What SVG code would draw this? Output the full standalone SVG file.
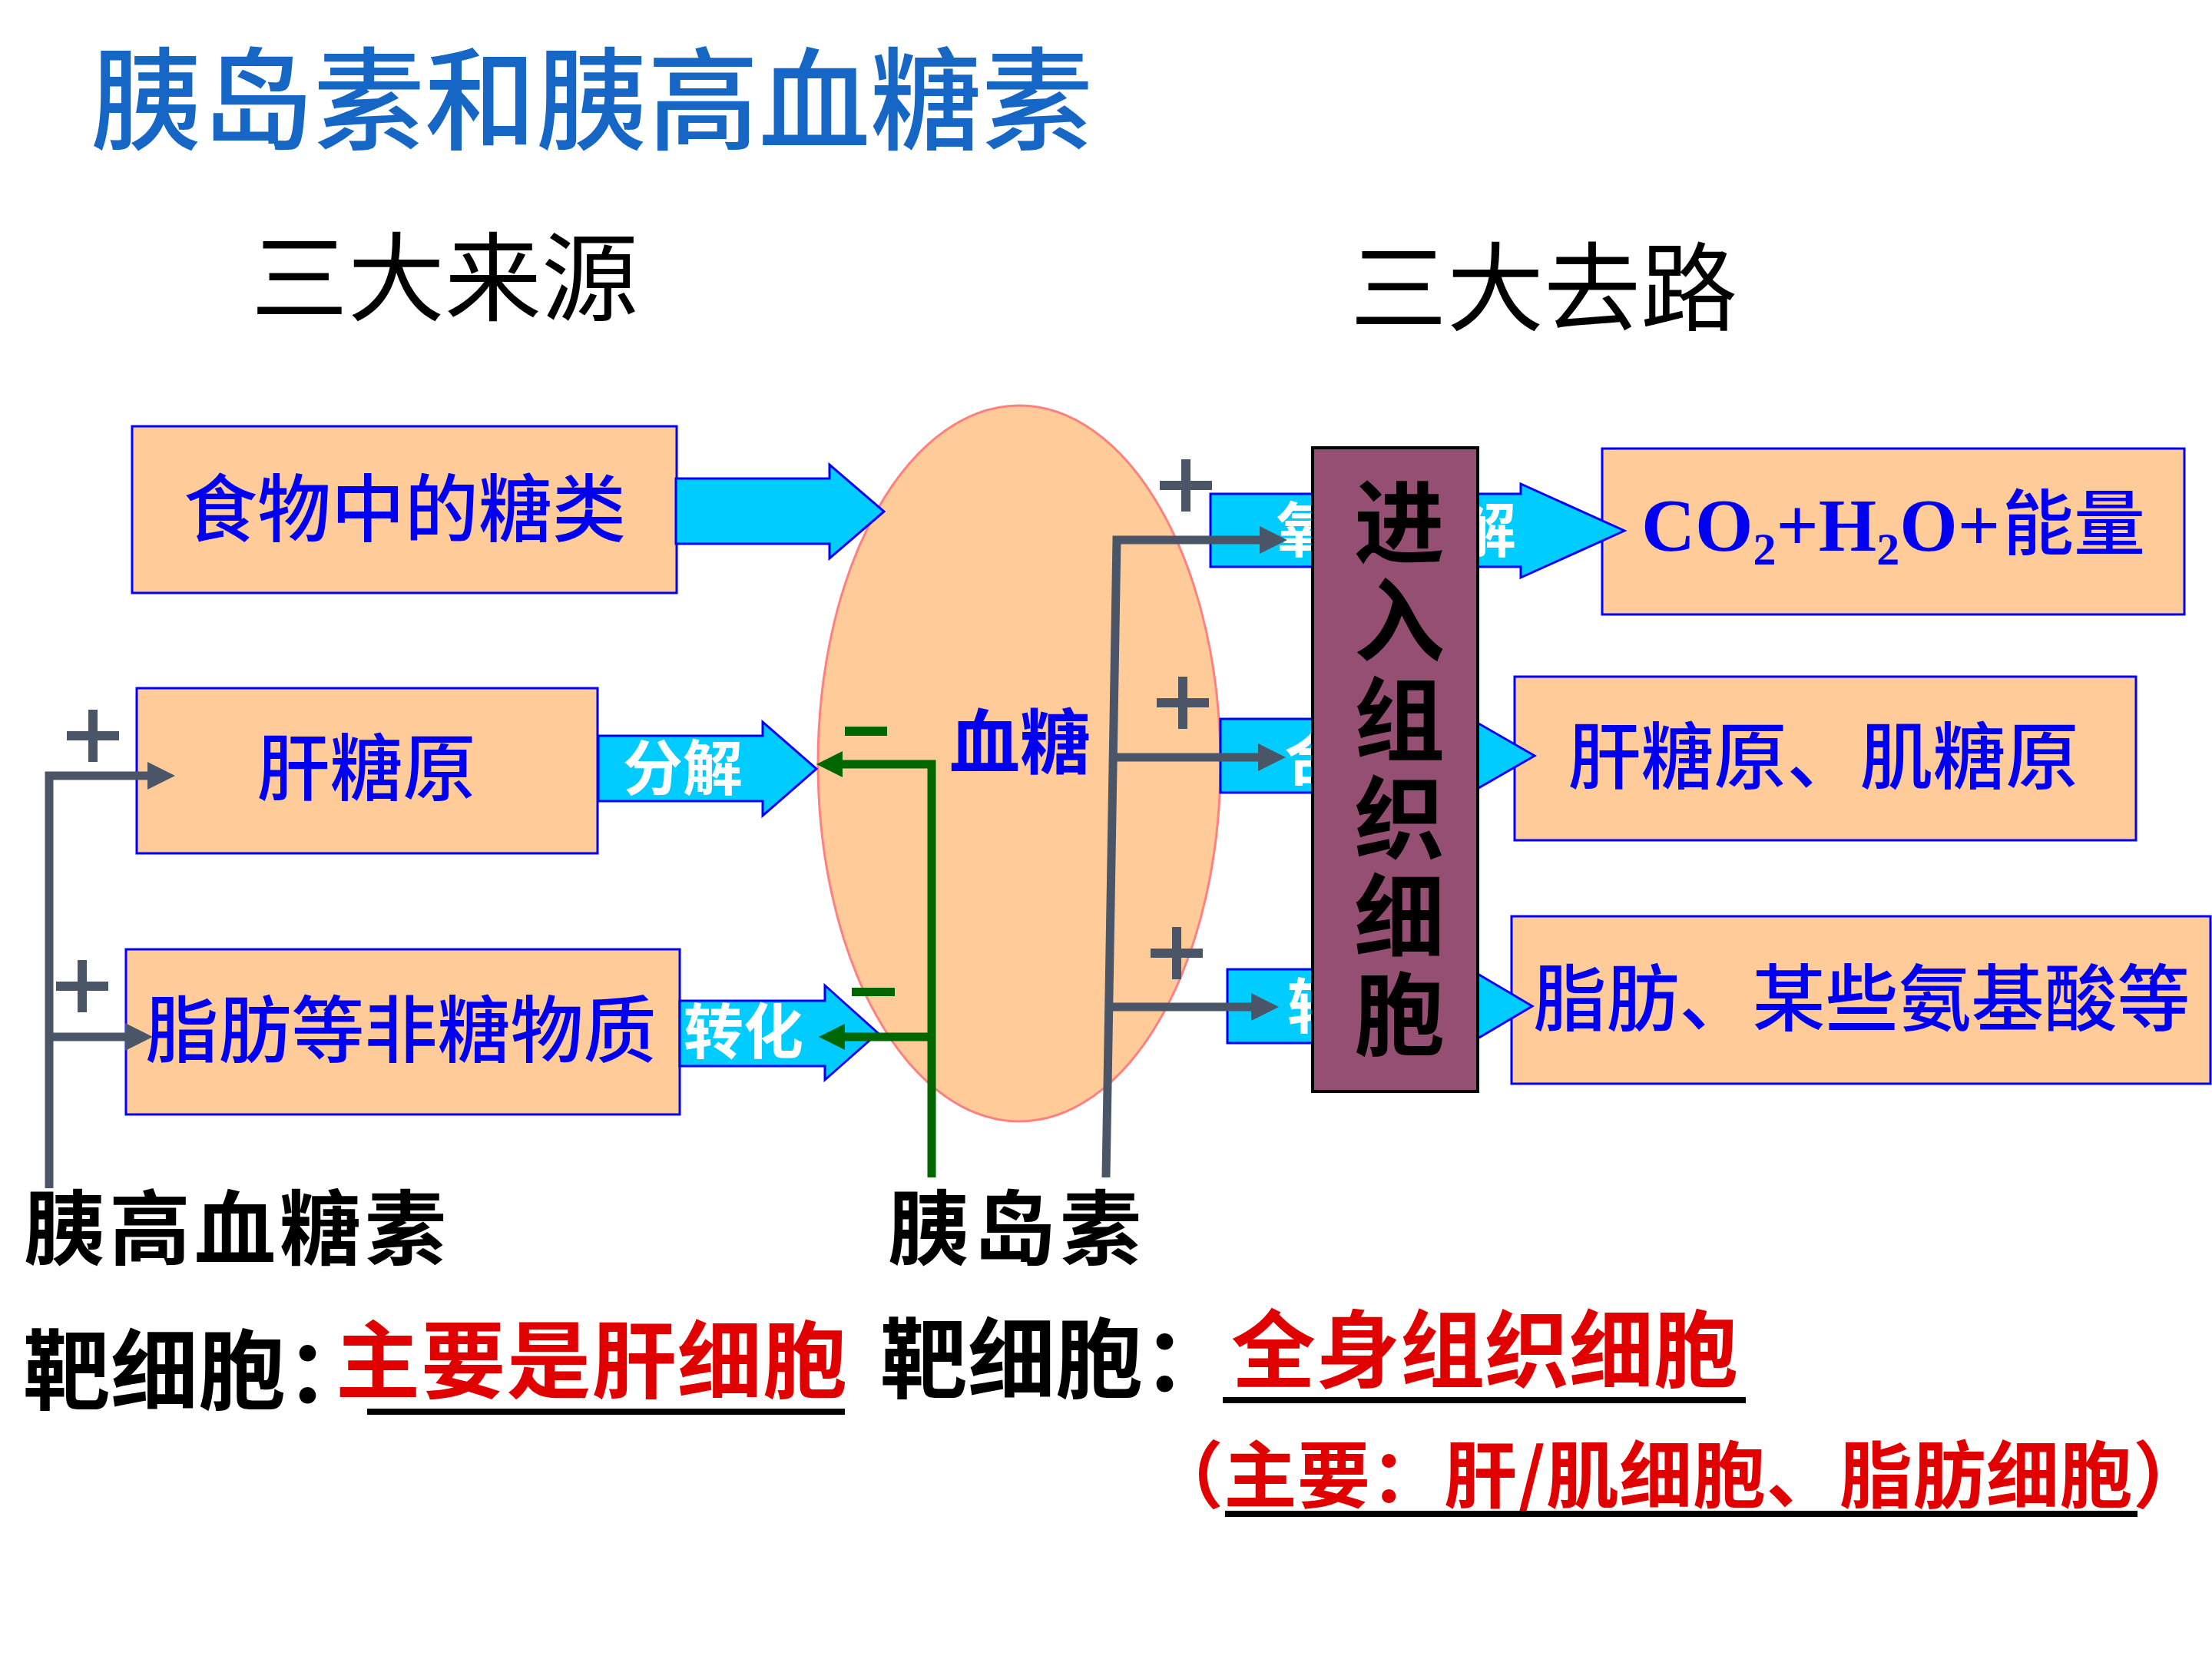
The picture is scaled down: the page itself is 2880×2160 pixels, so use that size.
<svg xmlns="http://www.w3.org/2000/svg" width="2880" height="2160" viewBox="0 0 2880 2160">
<defs>
<style>
.box{fill:#FFCC99;stroke:#0000FF;stroke-width:3}
.arr{fill:#00CCFF;stroke:#0000FF;stroke-width:3;stroke-linejoin:miter}
.bt{font-family:"Noto Sans CJK SC",sans-serif;fill:#0000F0;font-weight:500;text-anchor:middle}
.wt{font-family:"Noto Sans CJK SC",sans-serif;fill:#FFFFFF;font-weight:700}
.kai{font-family:"Noto Sans CJK SC",sans-serif;font-weight:700;fill:#000000}
.red{fill:#E00000}
.hd{font-family:"Noto Sans CJK SC",sans-serif;font-weight:400;fill:#000000;text-anchor:middle}
.gray{stroke:#4A5567;stroke-width:11;fill:none;stroke-linejoin:miter}
.green{stroke:#006600;stroke-width:11;fill:none;stroke-linejoin:miter}
.ul{stroke:#000000;stroke-width:8}
</style>
<marker id="ag" markerUnits="userSpaceOnUse" markerWidth="36" markerHeight="36" viewBox="0 0 36 36" refX="0" refY="18" orient="auto"><path d="M0,0 L36,18 L0,36 Z" fill="#4A5567"/></marker>
<marker id="agr" markerUnits="userSpaceOnUse" markerWidth="34" markerHeight="34" viewBox="0 0 34 34" refX="0" refY="17" orient="auto"><path d="M0,0 L34,17 L0,34 Z" fill="#006600"/></marker>
<path id="plus" d="M-34,-6H34V6H-34Z M-6,-34H6V34H-6Z"/>
</defs>
<rect width="2880" height="2160" fill="#FFFFFF"/>

<g id="title">
<text x="118" y="184" font-family="Noto Sans CJK SC, sans-serif" font-size="145" font-weight="500" fill="#1666C5">胰岛素和胰高血糖素</text>
<text class="hd" x="579" y="408" font-size="126">三大来源</text>
<text class="hd" x="2010" y="421" font-size="126">三大去路</text>
</g>

<g id="blood-sugar">
<ellipse cx="1327" cy="994" rx="262" ry="466" fill="#FFCC99" stroke="#FF8080" stroke-width="3"/>
<text x="1328" y="1000" font-family="Noto Sans CJK SC, sans-serif" font-size="92" font-weight="700" fill="#0000F0" text-anchor="middle">血糖</text>
</g>

<g id="food">
<rect class="box" x="172" y="555" width="709" height="217"/>
<text class="bt" x="527" y="697" font-size="96">食物中的糖类</text>
</g>
<g id="liver-glycogen">
<rect class="box" x="178" y="896" width="600" height="215"/>
<text class="bt" x="477" y="1035" font-size="95">肝糖原</text>
</g>
<g id="non-sugar">
<rect class="box" x="164" y="1236" width="721" height="215"/>
<text class="bt" x="522" y="1376" font-size="95">脂肪等非糖物质</text>
</g>

<g id="co2">
<rect class="box" x="2086" y="584" width="758" height="216"/>
<text x="2137" y="717" font-family="Liberation Serif, serif" font-size="97" font-weight="700" fill="#0000F0">CO<tspan dy="18" font-size="60">2</tspan><tspan dy="-18">+H</tspan><tspan dy="18" font-size="60">2</tspan><tspan dy="-18">O+</tspan></text>
<text x="2607" y="715" font-family="Noto Sans CJK SC, sans-serif" font-size="93" font-weight="500" fill="#0000F0">能量</text>
</g>
<g id="glycogen-out">
<rect class="box" x="1972" y="881" width="809" height="213"/>
<text class="bt" x="2374" y="1020" font-size="95">肝糖原、肌糖原</text>
</g>
<g id="fat-out">
<rect class="box" x="1968" y="1193" width="910" height="218"/>
<text class="bt" x="2424" y="1335" font-size="95">脂肪、某些氨基酸等</text>
</g>

<g id="flow-arrows">
<path class="arr" d="M880,623 H1080 V605 L1151,666 L1080,727 V708 H880 Z"/>
<path class="arr" d="M779,958 H993 V940 L1063,1001 L993,1062 V1043 H779 Z"/>
<text class="wt" x="889" y="1029" font-size="78" text-anchor="middle">分解</text>
<path class="arr" d="M885,1303 H1074 V1283 L1143,1345 L1074,1406 V1388 H885 Z"/>
<text class="wt" x="968" y="1372" font-size="78" text-anchor="middle">转化</text>
<path class="arr" d="M1576,643 H1980 V630 L2115,691 L1980,752 V738 H1576 Z"/>
<text class="wt" x="1662" y="719" font-size="78">氧化分解</text>
<path class="arr" d="M1589,936 H1880 V916 L1998,984 L1880,1052 V1032 H1589 Z"/>
<text class="wt" x="1672" y="1016" font-size="78">合成</text>
<path class="arr" d="M1598,1262 H1880 V1242 L1995,1310 L1880,1378 V1358 H1598 Z"/>
<text class="wt" x="1676" y="1339" font-size="78">转化</text>
</g>

<g id="tissue-cells">
<rect x="1709" y="583" width="215" height="838" fill="#944F73" stroke="#000000" stroke-width="4"/>
<g class="kai" font-size="118" text-anchor="middle">
<text x="1822" y="724">进</text>
<text x="1822" y="852">入</text>
<text x="1822" y="981">组</text>
<text x="1822" y="1109">织</text>
<text x="1822" y="1237">细</text>
<text x="1822" y="1365">胞</text>
</g>
</g>

<g id="connectors">
<path class="gray" d="M64,1547 V1010 H192" marker-end="url(#ag)"/>
<path class="gray" d="M64,1350 H163" marker-end="url(#ag)"/>
<path class="green" d="M1213,1533 V995 H1097" marker-end="url(#agr)"/>
<path class="green" d="M1213,1350 H1100" marker-end="url(#agr)"/>
<path class="gray" d="M1440,1533 L1454,703 H1640" marker-end="url(#ag)"/>
<path class="gray" d="M1449,986 H1638" marker-end="url(#ag)"/>
<path class="gray" d="M1444,1311 H1629" marker-end="url(#ag)"/>
<g fill="#4A5567">
<use href="#plus" x="121" y="958"/>
<use href="#plus" x="107" y="1284"/>
<use href="#plus" x="1544" y="632"/>
<use href="#plus" x="1540" y="915"/>
<use href="#plus" x="1532" y="1241"/>
</g>
<g fill="#006600">
<rect x="1100" y="946" width="55" height="12"/>
<rect x="1109" y="1286" width="56" height="11"/>
</g>
</g>

<g id="hormones">
<text class="kai" x="31" y="1638" font-size="106" textLength="550" lengthAdjust="spacing">胰高血糖素</text>
<text class="kai" x="1156" y="1638" font-size="106" textLength="330" lengthAdjust="spacing">胰岛素</text>
</g>

<g id="targets">
<text class="kai" x="30" y="1826" font-size="114">靶细胞：</text>
<text class="kai red" x="437" y="1812" font-size="110" textLength="666" lengthAdjust="spacing">主要是肝细胞</text>
<line class="ul" x1="478" y1="1838" x2="1100" y2="1838"/>
<text class="kai" x="1146" y="1811" font-size="114">靶细胞：</text>
<text class="kai red" x="1603" y="1798" font-size="110" textLength="660" lengthAdjust="spacing">全身组织细胞</text>
<line class="ul" x1="1592" y1="1823" x2="2273" y2="1823" stroke-width="9"/>
<text class="kai red" x="1498" y="1956" font-size="95" textLength="1374" lengthAdjust="spacing">（主要：肝/肌细胞、脂肪细胞）</text>
<line class="ul" x1="1595" y1="1971" x2="2783" y2="1971"/>
</g>
</svg>
